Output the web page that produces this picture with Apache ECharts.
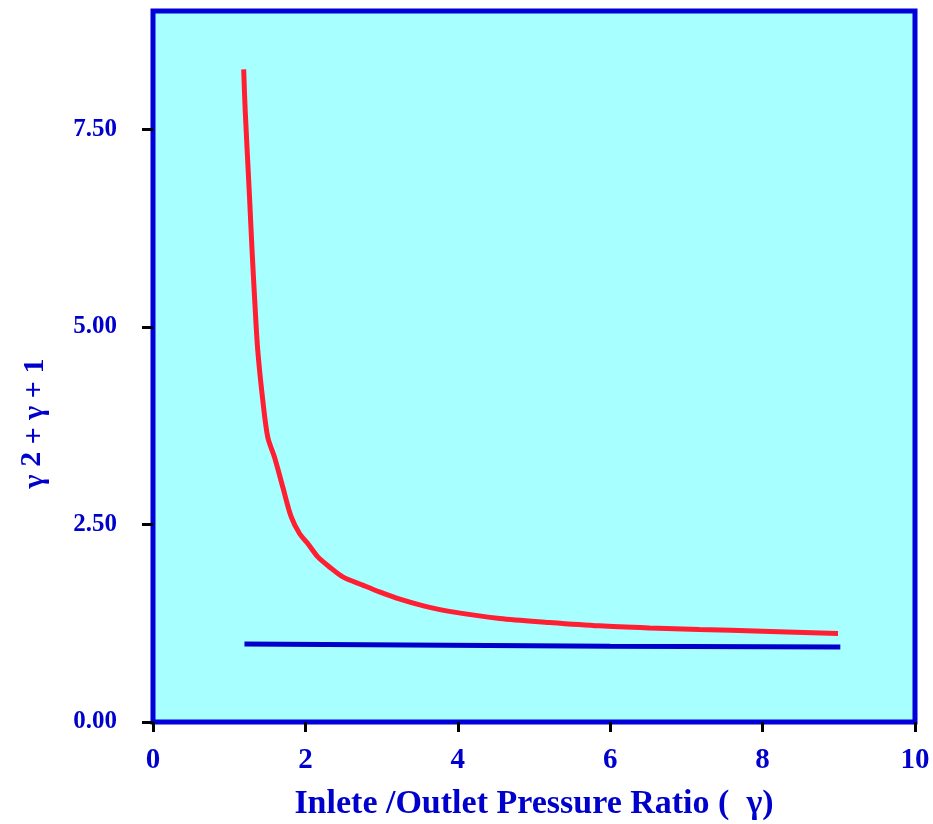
<!DOCTYPE html>
<html>
<head>
<meta charset="utf-8">
<script src="https://cdn.jsdelivr.net/npm/echarts@6/dist/echarts.min.js"></script>
<style>html,body{margin:0;padding:0;background:#fff;}#c{width:933px;height:824px;}</style>
</head>
<body>
<div id="c"></div>
<script>
const redX = [1.19, 1.21, 1.266, 1.30, 1.34, 1.375, 1.441, 1.507, 1.594, 1.703, 1.814, 1.923, 2.031, 2.163, 2.316, 2.491, 2.753, 2.972, 3.24, 3.55, 3.89, 4.55, 5.20, 5.86, 6.52, 7.17, 8.0, 8.99];
const redY = [8.26, 7.74, 6.66, 5.97, 5.25, 4.703, 4.071, 3.60, 3.354, 2.975, 2.596, 2.386, 2.259, 2.090, 1.963, 1.837, 1.732, 1.647, 1.555, 1.47, 1.40, 1.31, 1.26, 1.217, 1.19, 1.17, 1.15, 1.12];
const blueX = [1.2, 6.0, 9.02];
const blueY = [0.986, 0.96, 0.948];
const xTicks = [0, 2, 4, 6, 8, 10];
const yTicks = [0, 2.5, 5, 7.5];

const font = 'Liberation Serif';
const blue = '#0000CC';
const chart = echarts.init(document.getElementById('c'));
chart.setOption({
  animation: false,
  grid: {left: 153, top: 11, right: 18, bottom: 102, outerBoundsMode: 'none', containLabel: false,
         show: true, backgroundColor: '#A8FFFF', borderColor: '#0000D8', borderWidth: 5},
  xAxis: {
    type: 'value', min: 0, max: 10, interval: 2,
    axisLine: {show: false},
    axisTick: {show: true, length: 10, lineStyle: {color: '#000', width: 3}, customValues: xTicks},
    axisLabel: {customValues: xTicks, margin: 24, color: blue, fontFamily: font, fontWeight: 'bold', fontSize: 29},
    splitLine: {show: false},
    name: 'Inlete /Outlet Pressure Ratio (  γ)', nameLocation: 'middle', nameGap: 65,
    nameTextStyle: {color: blue, fontFamily: font, fontWeight: 'bold', fontSize: 34}
  },
  yAxis: {
    type: 'value', min: 0, max: 9, interval: 2.5,
    axisLine: {show: false},
    axisTick: {show: true, length: 11, lineStyle: {color: '#000', width: 3}, customValues: yTicks},
    axisLabel: {customValues: yTicks, margin: 36, color: blue, fontFamily: font, fontWeight: 'bold', fontSize: 25,
      formatter: v => v.toFixed(2)},
    splitLine: {show: false},
    name: '{a|γ }{s|2}{a| + γ + 1}', nameLocation: 'middle', nameGap: 100,
    nameTextStyle: {padding: [0, 114, 0, 0], rich: {
      a: {color: blue, fontFamily: font, fontWeight: 'bold', fontSize: 30},
      s: {color: blue, fontFamily: font, fontWeight: 'bold', fontSize: 30, verticalAlign: 'bottom', padding: [0, 0, 6, 0]}
    }}
  },
  series: [
    {type: 'line', data: redX.map((x, i) => [x, redY[i]]), smooth: 0.3, symbol: 'none',
     lineStyle: {color: '#FF1F33', width: 5}},
    {type: 'line', data: blueX.map((x, i) => [x, blueY[i]]), symbol: 'none',
     lineStyle: {color: '#0000CC', width: 5}}
  ]
});
</script>
</body>
</html>
